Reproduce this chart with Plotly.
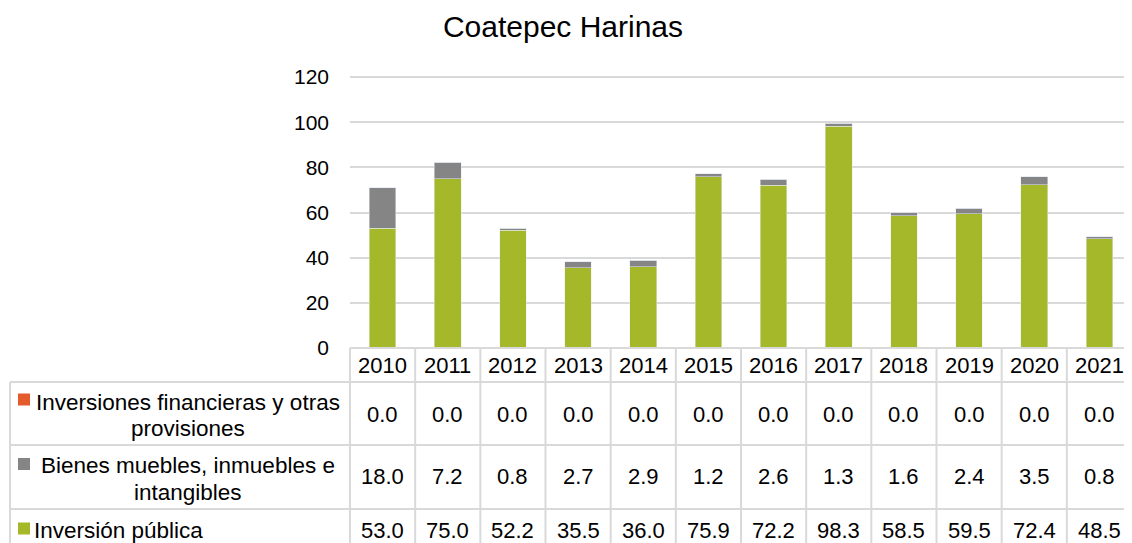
import plotly.graph_objects as go

years = ["2010", "2011", "2012", "2013", "2014", "2015", "2016", "2017", "2018", "2019", "2020", "2021"]
inversiones_financieras = [0.0, 0.0, 0.0, 0.0, 0.0, 0.0, 0.0, 0.0, 0.0, 0.0, 0.0, 0.0]
bienes_muebles = [18.0, 7.2, 0.8, 2.7, 2.9, 1.2, 2.6, 1.3, 1.6, 2.4, 3.5, 0.8]
inversion_publica = [53.0, 75.0, 52.2, 35.5, 36.0, 75.9, 72.2, 98.3, 58.5, 59.5, 72.4, 48.5]

GREEN = "#A5B82A"
GRAY = "#858585"
ORANGE = "#E35B2B"
LINE = "#D9D9D9"
FONT = "Liberation Sans, Arial, sans-serif"

# page body has an 8px margin, so the figure is drawn 8px smaller and shifted
OFF = 8
W, H = 1132 - OFF, 543 - OFF
L, R, T, B = 350 - OFF, 0, 76 - OFF, 195


def px(x):
    return (x - OFF - L) / (W - L - R)


def py(y):
    return (H - B - (y - OFF)) / (H - T - B)


fig = go.Figure()
fig.add_trace(go.Bar(x=years, y=inversion_publica, marker_color=GREEN, width=0.41,
                     name="Inversión pública"))
fig.add_trace(go.Bar(x=years, y=bienes_muebles, marker_color=GRAY, width=0.41,
                     name="Bienes muebles, inmuebles e intangibles"))
fig.add_trace(go.Bar(x=years, y=inversiones_financieras, marker_color=ORANGE, width=0.41,
                     name="Inversiones financieras y otras provisiones"))

n = len(years)
shapes = []
annotations = []

# table grid
shapes.append(dict(type="line", xref="paper", yref="paper", x0=0, x1=1, y0=py(348), y1=py(348),
                   line=dict(color=LINE, width=2)))
for yy in [382, 445, 509]:
    shapes.append(dict(type="line", xref="paper", yref="paper", x0=px(10), x1=1, y0=py(yy), y1=py(yy),
                       line=dict(color=LINE, width=2)))
for k in range(n + 1):
    shapes.append(dict(type="line", xref="paper", yref="paper", x0=k / n, x1=k / n, y0=py(348), y1=py(550),
                       line=dict(color=LINE, width=2)))
shapes.append(dict(type="line", xref="paper", yref="paper", x0=px(10), x1=px(10), y0=py(382), y1=py(550),
                   line=dict(color=LINE, width=2)))


def cell(text, x, y, xanchor="center", size=22):
    return dict(text=text, xref="paper", yref="paper", x=x, y=y, xanchor=xanchor, yanchor="middle",
                showarrow=False, font=dict(size=size, color="black"))


# year header
for i, yr in enumerate(years):
    annotations.append(cell(yr, (i + 0.5) / n, py(365)))

rows = [
    (["Inversiones financieras y otras", "provisiones"], inversiones_financieras, ORANGE, 414, [402, 428], 399.5),
    (["Bienes muebles, inmuebles e", "intangibles"], bienes_muebles, GRAY, 477, [465, 492], 464),
    (["Inversión pública"], inversion_publica, GREEN, 530, [530], 528.5),
]
for lines, vals, color, yc, label_y, sq in rows:
    for i, v in enumerate(vals):
        annotations.append(cell(f"{v:.1f}", (i + 0.5) / n, py(yc)))
    if len(lines) > 1:
        for txt, ly in zip(lines, label_y):
            annotations.append(cell(txt, px(188), py(ly), size=22.5))
    else:
        annotations.append(cell(lines[0], px(32), py(label_y[0]), xanchor="left", size=22.5))
    shapes.append(dict(type="rect", xref="paper", yref="paper", x0=px(18), x1=px(30),
                       y0=py(sq - 6), y1=py(sq + 6), fillcolor=color, line=dict(width=0)))

fig.update_layout(
    width=W, height=H,
    barmode="stack",
    paper_bgcolor="white", plot_bgcolor="white",
    font=dict(family=FONT, color="black", size=21),
    title=dict(text="Coatepec Harinas", x=(563 - OFF) / W, xanchor="center", y=1 - (26 - OFF) / H,
               yanchor="middle", font=dict(size=30, color="black")),
    xaxis=dict(range=[-0.5, n - 0.5], showticklabels=False, showgrid=False, zeroline=False,
               showline=False, fixedrange=True),
    yaxis=dict(range=[0, 120.5], dtick=20, showgrid=True, gridcolor=LINE, gridwidth=2,
               zeroline=False, showline=False, ticklabelstandoff=20,
               tickfont=dict(size=21, color="black")),
    margin=dict(l=L, r=R, t=T, b=B),
    showlegend=False,
    shapes=shapes,
    annotations=annotations,
)

fig.write_html("out.html")
